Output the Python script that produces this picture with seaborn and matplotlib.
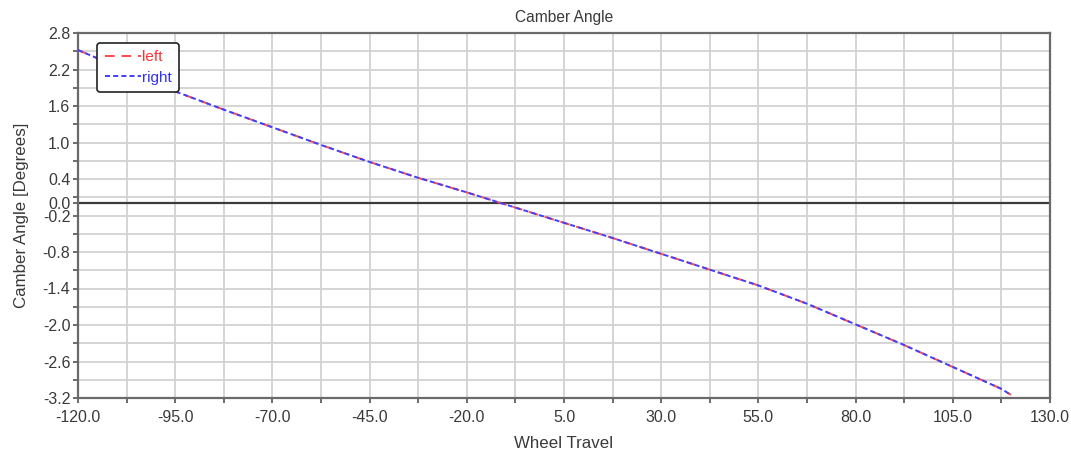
import matplotlib
matplotlib.use("Agg")
import matplotlib.pyplot as plt
import matplotlib.ticker as mticker
import seaborn as sns
import pandas as pd

# ---- data ----
wheel_travel = [-120.0, -107.5, -95.0, -82.5, -70.0, -57.5, -45.0, -32.5, -20.0,
                -7.5, 5.0, 17.5, 30.0, 42.5, 55.0, 67.5, 80.0, 92.5, 105.0, 117.5, 120.0]
camber_left = [2.52, 2.18, 1.84, 1.54, 1.25, 0.96, 0.68, 0.42, 0.18,
               -0.07, -0.32, -0.57, -0.83, -1.09, -1.35, -1.65, -1.99, -2.33, -2.69, -3.05, -3.15]
camber_right = [2.52, 2.18, 1.84, 1.54, 1.25, 0.96, 0.68, 0.42, 0.18,
                -0.07, -0.32, -0.57, -0.83, -1.09, -1.35, -1.65, -1.99, -2.33, -2.69, -3.05, -3.15]

x_major_ticks = [-120.0, -95.0, -70.0, -45.0, -20.0, 5.0, 30.0, 55.0, 80.0, 105.0, 130.0]
x_minor_ticks = [-107.5, -82.5, -57.5, -32.5, -7.5, 17.5, 42.5, 67.5, 92.5, 117.5]
y_major_ticks = [-3.2, -2.6, -2.0, -1.4, -0.8, -0.2, 0.0, 0.4, 1.0, 1.6, 2.2, 2.8]
y_minor_ticks = [-2.9, -2.3, -1.7, -1.1, -0.5, 0.1, 0.7, 1.3, 1.9, 2.5]

title = "Camber Angle"
x_label = "Wheel Travel"
y_label = "Camber Angle [Degrees]"

df_left = pd.DataFrame({"travel": wheel_travel, "camber": camber_left})
df_right = pd.DataFrame({"travel": wheel_travel, "camber": camber_right})

sns.set_style("white")
plt.rcParams["font.family"] = ["Liberation Sans", "DejaVu Sans"]
plt.rcParams["font.size"] = 11

fig = plt.figure(figsize=(10.71, 4.53), dpi=100)
ax = fig.add_axes([78 / 1071, 1 - 398 / 453, (1050 - 78) / 1071, (398 - 33) / 453])

text_col = "#3a3a3a"
grid_col = "#d2d2d2"

ax.axhline(0, color="#3c3c3c", lw=1.6, zorder=2)

sns.lineplot(data=df_left, x="travel", y="camber", ax=ax, color="#ff4a4a",
             lw=1.4, label="left", zorder=3)
sns.lineplot(data=df_right, x="travel", y="camber", ax=ax, color="#4040ff",
             lw=1.4, label="right", zorder=4)
ax.lines[1].set_dashes((5, 3.5))
ax.lines[2].set_dashes((2.6, 1.6))

ax.set_xlim(-120, 130)
ax.set_ylim(-3.2, 2.8)

ax.xaxis.set_major_locator(mticker.FixedLocator(x_major_ticks))
ax.xaxis.set_minor_locator(mticker.FixedLocator(x_minor_ticks))
ax.yaxis.set_major_locator(mticker.FixedLocator(y_major_ticks))
ax.yaxis.set_minor_locator(mticker.FixedLocator(y_minor_ticks))
ax.xaxis.set_major_formatter(mticker.FormatStrFormatter("%.1f"))
ax.yaxis.set_major_formatter(mticker.FormatStrFormatter("%.1f"))

ax.grid(True, which="both", color=grid_col, lw=1.3, zorder=0)
ax.set_axisbelow(True)

ax.tick_params(which="both", direction="out", length=3.5, width=1.1, color="#444444",
               labelcolor=text_col, labelsize=11.5, left=True, bottom=True)
ax.tick_params(axis="x", which="both", pad=5)
ax.tick_params(axis="y", which="both", pad=2)

for s in ax.spines.values():
    s.set_color("#6a6a6a")
    s.set_linewidth(1.6)

ax.set_title(title, color=text_col, fontsize=11.2, pad=8)
ax.set_xlabel(x_label, color=text_col, fontsize=12.2, labelpad=8)
ax.set_ylabel(y_label, color=text_col, fontsize=12.2, labelpad=10)

leg = ax.legend(loc="upper left", bbox_to_anchor=(0.0195, 0.973), borderaxespad=0,
                frameon=True, fancybox=True, handlelength=2.4, handletextpad=0.05,
                labelspacing=0.4, borderpad=0.5, fontsize=11)
leg.get_frame().set_edgecolor("#222222")
leg.get_frame().set_linewidth(1.2)
leg.get_frame().set_alpha(1)
for txt, c in zip(leg.get_texts(), ["#ff3030", "#3030ff"]):
    txt.set_color(c)

fig.savefig("out.png", dpi=100)
